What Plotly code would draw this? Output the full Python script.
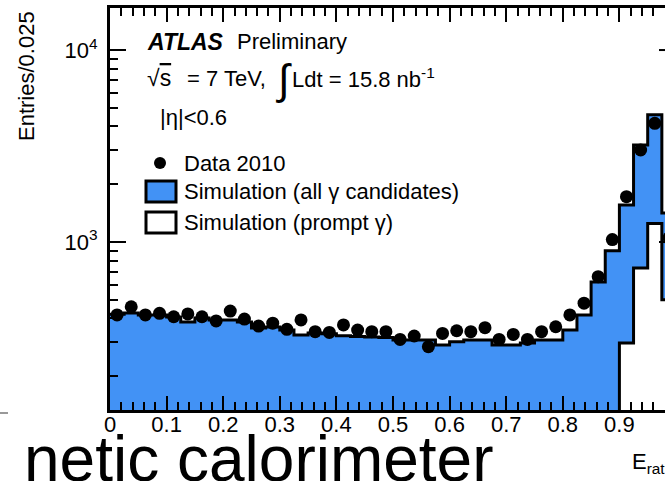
import plotly.graph_objects as go

# ---------------- data ----------------
bin_width = 0.025
bin_edges = [round(i * bin_width, 4) for i in range(41)]
bin_centers = [round(e + bin_width / 2, 4) for e in bin_edges[:-1]]

data_2010 = [417, 460, 417, 425, 408, 422, 408, 388, 437, 397,
             365, 378, 351, 393, 341, 338, 370, 348, 341, 341,
             311, 324, 285, 334, 345, 341, 358, 311, 330, 311,
             341, 362, 417, 480, 660, 1030, 1722, 3015, 4150, 1050]

sim_all = [421, 427, 417, 417, 407, 383, 402, 392, 392, 383,
           357, 361, 348, 328, 336, 333, 325, 322, 320, 318,
           309, 309, 309, 291, 302, 309, 309, 291, 291, 298,
           309, 309, 348, 417, 620, 900, 1560, 3200, 4600, 1415]

sim_prompt = [60, 60, 60, 60, 60, 60, 60, 60, 60, 60,
              60, 60, 60, 60, 60, 60, 60, 60, 60, 60,
              60, 60, 60, 60, 60, 60, 60, 60, 60, 60,
              60, 60, 60, 60, 60, 60, 298, 733, 1250, 500]

x_tick_vals = [0, 0.1, 0.2, 0.3, 0.4, 0.5, 0.6, 0.7, 0.8, 0.9]
x_tick_text = ["0", "0.1", "0.2", "0.3", "0.4", "0.5", "0.6", "0.7", "0.8", "0.9"]
y_tick_vals = [1000, 10000]
y_tick_text = ["10<sup>3</sup>", "10<sup>4</sup>"]
y_minor_vals = [200, 300, 400, 500, 600, 700, 800, 900,
                2000, 3000, 4000, 5000, 6000, 7000, 8000, 9000]

# ---------------- style ----------------
W, H = 665, 481
ML, MR, MT, MB = 110, 0, 8, 71
BLUE = "#4292f5"
FONT = "Liberation Sans, Arial, Helvetica, sans-serif"


def px(x):
    return (x - ML) / (W - ML - MR)


def py(y):
    return (H - MB - y) / (H - MT - MB)


fig = go.Figure()

fig.add_trace(go.Bar(x=bin_centers, y=sim_all, width=bin_width,
                     marker=dict(color=BLUE, line=dict(color=BLUE, width=1)),
                     showlegend=False, hoverinfo="skip"))
fig.add_trace(go.Bar(x=bin_centers, y=sim_prompt, width=bin_width,
                     marker=dict(color="white", line=dict(color="white", width=1)),
                     showlegend=False, hoverinfo="skip"))
fig.add_trace(go.Scatter(x=bin_edges, y=sim_all + [sim_all[-1]], mode="lines",
                         line=dict(color="black", width=3, shape="hv"),
                         showlegend=False, hoverinfo="skip"))
fig.add_trace(go.Scatter(x=bin_edges, y=sim_prompt + [sim_prompt[-1]], mode="lines",
                         line=dict(color="black", width=3, shape="hv"),
                         showlegend=False, hoverinfo="skip"))
fig.add_trace(go.Scatter(x=bin_centers, y=data_2010, mode="markers",
                         marker=dict(color="black", size=13),
                         showlegend=False, cliponaxis=True))

x_max = (W - ML - MR) / 566.0

fig.update_layout(
    width=W, height=H, autosize=False,
    margin=dict(l=ML, r=MR, t=MT, b=MB, pad=0),
    paper_bgcolor="white", plot_bgcolor="white",
    barmode="overlay", bargap=0,
    font=dict(family=FONT, size=22, color="black"),
    xaxis=dict(range=[0, x_max], showgrid=False, zeroline=False,
               showline=True, linecolor="black", linewidth=3, mirror="allticks",
               ticks="inside", ticklen=14, tickwidth=2, tickcolor="black",
               tickmode="array", tickvals=x_tick_vals, ticktext=x_tick_text,
               tickfont=dict(size=22, family=FONT), ticklabelstandoff=-7,
               minor=dict(ticks="inside", ticklen=8, tickwidth=2, tickcolor="black",
                          dtick=0.02, tick0=0, showgrid=False)),
    yaxis=dict(type="log", range=[2.125, 4.219], showgrid=False, zeroline=False,
               showline=True, linecolor="black", linewidth=3, mirror=False,
               ticks="inside", ticklen=16, tickwidth=2, tickcolor="black",
               tickmode="array", tickvals=y_tick_vals, ticktext=y_tick_text,
               tickfont=dict(size=22, family=FONT), ticklabelstandoff=5,
               minor=dict(ticks="inside", ticklen=8, tickwidth=2, tickcolor="black",
                          tickmode="array", tickvals=y_minor_vals, showgrid=False)),
)

ann = []


def txt(x, y, s, size=22, anchor="left", angle=0):
    ann.append(dict(x=px(x), y=py(y), xref="paper", yref="paper", text=s,
                    showarrow=False, xanchor=anchor, yanchor="middle",
                    textangle=angle, font=dict(family=FONT, size=size, color="black")))


txt(26, 76, "Entries/0.025", size=22, anchor="center", angle=-90)
txt(145, 42, "<b><i>ATLAS</i></b>", size=23)
txt(235, 42, "Preliminary")
txt(145, 78, "√<span style='text-decoration:overline'>s</span>", size=23)
txt(185, 78, "= 7 TeV,")
txt(274, 80, "∫", size=42)
txt(290, 78, "Ldt = 15.8 nb<sup>-1</sup>")
txt(158, 118, "|η|&lt;0.6")
txt(182, 163, "Data 2010")
txt(182, 191, "Simulation (all γ candidates)")
txt(182, 222, "Simulation (prompt γ)")
txt(630, 463, "E<sub>ratio</sub>", size=22)
txt(22, 459, "netic calorimeter", size=64)

fig.update_layout(annotations=ann)

shapes = [
    dict(type="circle", xref="paper", yref="paper",
         x0=px(154), x1=px(166), y0=py(169), y1=py(157),
         fillcolor="black", line=dict(color="black", width=0)),
    dict(type="rect", xref="paper", yref="paper",
         x0=px(146), x1=px(176), y0=py(202), y1=py(181),
         fillcolor=BLUE, line=dict(color="black", width=3)),
    dict(type="rect", xref="paper", yref="paper",
         x0=px(146), x1=px(176), y0=py(233), y1=py(212),
         fillcolor="white", line=dict(color="black", width=3)),
    dict(type="line", xref="paper", yref="paper",
         x0=px(0), x1=px(8), y0=py(413), y1=py(413),
         line=dict(color="#999999", width=2)),
]
# mirrored major y ticks on the (off-screen) right frame
for v in y_tick_vals:
    shapes.append(dict(type="line", xref="paper", yref="y",
                       x0=px(659), x1=1.0, y0=v, y1=v,
                       line=dict(color="black", width=2)))
fig.update_layout(shapes=shapes)

fig.write_html("out.html")
